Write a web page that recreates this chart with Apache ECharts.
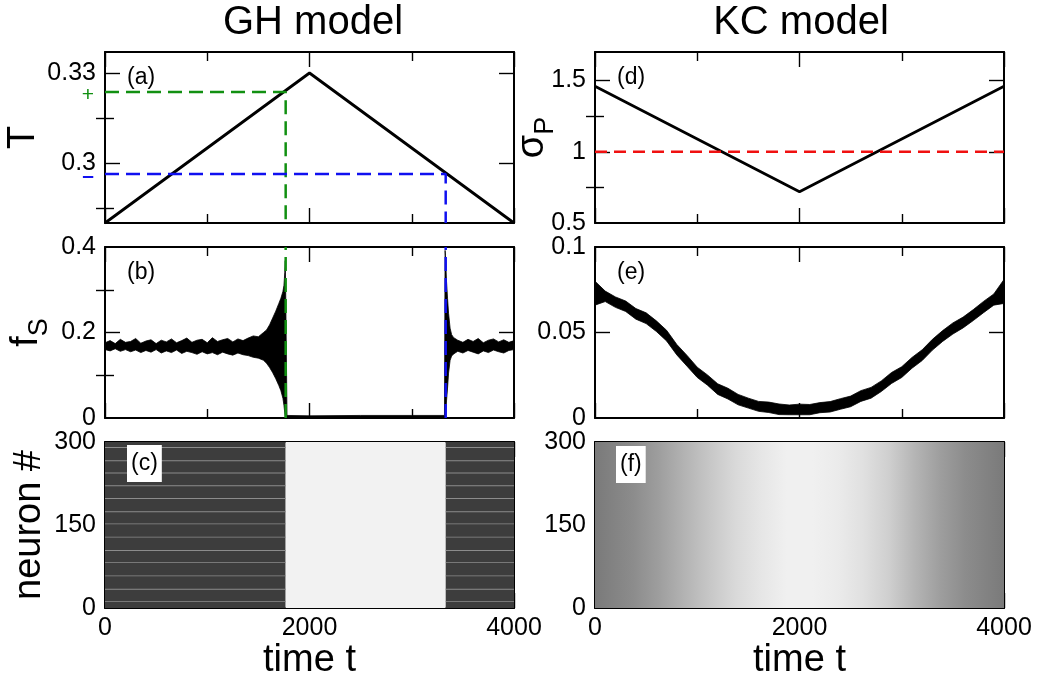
<!DOCTYPE html>
<html>
<head>
<meta charset="utf-8">
<script src="https://cdn.jsdelivr.net/npm/echarts@6.0.0/dist/echarts.min.js"></script>
<style>
html,body{margin:0;padding:0;background:#fff;}
#chart{width:1037px;height:681px;}
</style>
</head>
<body>
<div id="chart"></div>
<script>
// ---------------- DATA ----------------
const columnTitles = ['GH model', 'KC model'];
const timeLabels = [0, 2000, 4000];

// (a) GH model: temperature protocol T(t)
const ghTime = [0, 2000, 4000];
const ghT = [0.28, 0.33, 0.28];
const ghGreenT = 0.3237;   // critical T on the way up
const ghGreenTime = 1767;
const ghBlueT = 0.2963;    // critical T on the way down
const ghBlueTime = 3332;

// (b) GH model: f_S envelope (low / high edge of the noisy trace)
const fsTime = [0, 50, 100, 150, 200, 250, 300, 350, 400, 450, 500, 550, 600, 650, 700, 750, 800, 850, 900, 950, 1000, 1050, 1100, 1150, 1200, 1250, 1300, 1350, 1400,
                1450, 1500, 1550, 1580, 1610, 1640, 1670, 1700, 1720, 1740, 1750, 1758, 1763, 1767, 1780, 2000, 2500, 3000, 3320, 3326, 3330, 3340, 3350, 3360, 3375, 3390,
                3410, 3450, 3500, 3550, 3600, 3650, 3700, 3750, 3800, 3850, 3900, 3950, 4000];
const fsHigh = [0.176, 0.181, 0.174, 0.184, 0.177, 0.179, 0.186, 0.175, 0.180, 0.183, 0.174, 0.182, 0.178, 0.185, 0.176, 0.181, 0.187, 0.177, 0.182, 0.184, 0.176, 0.188, 0.179, 0.183, 0.186, 0.178, 0.185, 0.181, 0.187,
                0.192, 0.190, 0.200, 0.206, 0.218, 0.234, 0.250, 0.268, 0.280, 0.296, 0.310, 0.340, 0.368, 0.300, 0.006, 0.005, 0.006, 0.006, 0.006, 0.392, 0.380, 0.320, 0.280, 0.245, 0.210, 0.195,
                0.188, 0.182, 0.177, 0.184, 0.179, 0.186, 0.176, 0.182, 0.185, 0.178, 0.183, 0.177, 0.181];
const fsLow  = [0.160, 0.157, 0.162, 0.156, 0.160, 0.155, 0.159, 0.153, 0.158, 0.154, 0.160, 0.152, 0.157, 0.153, 0.159, 0.151, 0.156, 0.153, 0.149, 0.155, 0.150, 0.153, 0.148, 0.154, 0.150, 0.147, 0.152, 0.148, 0.146,
                0.142, 0.140, 0.135, 0.128, 0.118, 0.106, 0.092, 0.076, 0.064, 0.046, 0.030, 0.012, 0.001, 0.000, 0.001, 0.001, 0.001, 0.001, 0.001, 0.000, 0.000, 0.040, 0.070, 0.105, 0.135, 0.145,
                0.150, 0.156, 0.152, 0.158, 0.154, 0.150, 0.157, 0.153, 0.159, 0.155, 0.152, 0.158, 0.160];

// (c) GH model raster: firing density per time segment, bright row gaps
const ghRasterEdges = [0, 1767, 3332, 4000];
const ghRasterDensity = [0.76, 0.05, 0.76];
const ghStripeNeurons = [12, 34, 58, 82, 104, 128, 152, 174, 198, 221, 244, 266, 290];

// (d) KC model: branching ratio protocol sigma_P(t)
const kcTime = [0, 2000, 4000];
const kcSigma = [1.46, 0.72, 1.46];
const kcCritical = 1;

// (e) KC model: f_S envelope
const kfTime = [0, 100, 200, 300, 400, 500, 600, 700, 800, 900, 1000, 1100, 1200, 1300, 1400, 1500, 1600, 1700, 1800, 1900, 2000,
                2100, 2200, 2300, 2400, 2500, 2600, 2700, 2800, 2900, 3000, 3100, 3200, 3300, 3400, 3500, 3600, 3700, 3800, 3900, 4000];
const kfHigh = [0.0800, 0.0742, 0.0708, 0.0684, 0.0640, 0.0615, 0.0568, 0.0513, 0.0430, 0.0366, 0.0297, 0.0252, 0.0200, 0.0174, 0.0138, 0.0116, 0.0097, 0.0093, 0.0082, 0.0076, 0.0081,
                0.0079, 0.0090, 0.0096, 0.0113, 0.0128, 0.0160, 0.0179, 0.0217, 0.0266, 0.0300, 0.0354, 0.0399, 0.0460, 0.0511, 0.0556, 0.0590, 0.0634, 0.0682, 0.0725, 0.0810];
const kfLow  = [0.0660, 0.0681, 0.0647, 0.0623, 0.0578, 0.0552, 0.0506, 0.0451, 0.0369, 0.0303, 0.0237, 0.0192, 0.0138, 0.0111, 0.0077, 0.0058, 0.0039, 0.0032, 0.0020, 0.0019, 0.0019,
                0.0019, 0.0031, 0.0035, 0.0051, 0.0066, 0.0097, 0.0116, 0.0155, 0.0202, 0.0237, 0.0291, 0.0336, 0.0397, 0.0448, 0.0491, 0.0527, 0.0570, 0.0616, 0.0660, 0.0670];

// (f) KC model raster: firing density at segment centres
const kcRasterTime = [0, 125, 375, 625, 875, 1125, 1375, 1625, 1875, 2125, 2375, 2625, 2875, 3125, 3375, 3625, 3875, 4000];
const kcRasterDensity = [0.52, 0.50, 0.45, 0.38, 0.30, 0.22, 0.15, 0.10, 0.06, 0.06, 0.08, 0.12, 0.19, 0.29, 0.38, 0.45, 0.50, 0.52];

// ---------------- LAYOUT ----------------
const FONT = '"Liberation Sans", Arial, Helvetica, sans-serif';
const colLeft = [105, 595];
const rowTop = [52, 247, 442];
const PW = 409, PH = 171;

const panels = [
  {tag:'(a)', col:0, row:0, yMin:0.28, yMax:0.337, yLabels:[0.3, 0.33], yMajor:[0.3, 0.33], yMinor:[0.285, 0.315], name:'T', nameGap:62},
  {tag:'(b)', col:0, row:1, yMin:0, yMax:0.4, yLabels:[0, 0.2, 0.4], yMajor:[0.2], yMinor:[0.1, 0.3], name:'{m|f}{s|S}', nameGap:52},
  {tag:'(c)', col:0, row:2, yMin:0, yMax:300, yLabels:[0, 150, 300], yMajor:[150], yMinor:null, name:'neuron #', nameGap:56},
  {tag:'(d)', col:1, row:0, yMin:0.5, yMax:1.7, yLabels:[0.5, 1, 1.5], yMajor:[1, 1.5], yMinor:[0.75, 1.25], name:'{m|σ}{s|P}', nameGap:36},
  {tag:'(e)', col:1, row:1, yMin:0, yMax:0.1, yLabels:[0, 0.05, 0.1], yMajor:[0.05], yMinor:null, name:'', nameGap:50},
  {tag:'(f)', col:1, row:2, yMin:0, yMax:300, yLabels:[0, 150, 300], yMajor:[150], yMinor:null, name:'', nameGap:50}
];

const grids = [], xAxes = [], yAxes = [];
const axisLine = {show:true, onZero:false, lineStyle:{color:'#000', width:2}};
const tickStyle = {color:'#000', width:1.4};

panels.forEach((p, gi) => {
  grids.push({left: colLeft[p.col], top: rowTop[p.row], width: PW, height: PH, containLabel:false});
  const bottomRow = p.row === 2;
  p.x = xAxes.length;
  ['bottom', 'top'].forEach(pos => {
    xAxes.push({
      gridIndex: gi, type:'value', min:0, max:4000, interval:2000, position:pos,
      axisLine: axisLine,
      axisTick: {show:true, inside:true, length:15, lineStyle:tickStyle},
      minorTick: {show:true, splitNumber:2, length:9, lineStyle:tickStyle},
      splitLine: {show:false}, minorSplitLine:{show:false},
      axisLabel: {show: pos==='bottom' && bottomRow, customValues: timeLabels, formatter: v => String(v),
                  fontSize:25, color:'#000', fontFamily:FONT, margin:8},
      name: (pos==='bottom' && bottomRow) ? 'time t' : '',
      nameLocation:'middle', nameGap:34, nameMoveOverlap:false,
      nameTextStyle:{fontSize:38, color:'#000', fontFamily:FONT}
    });
  });
  p.y = yAxes.length;
  ['left', 'right'].forEach(pos => {
    yAxes.push({
      gridIndex: gi, type:'value', min:p.yMin, max:p.yMax, position:pos,
      axisLine: axisLine,
      axisTick: {show:true, inside:true, length:15, customValues:p.yMajor, lineStyle:tickStyle},
      splitLine: {show:false},
      axisLabel: {show: pos==='left', customValues:p.yLabels, formatter: v => String(v), fontSize:25, color:'#000', fontFamily:FONT, margin:9},
      name: pos==='left' ? p.name : '',
      nameLocation:'middle', nameGap:p.nameGap, nameMoveOverlap:false,
      nameTextStyle:{fontSize:38, color:'#000', fontFamily:FONT,
        rich:{m:{fontSize:38, color:'#000', fontFamily:FONT}, s:{fontSize:27, color:'#000', fontFamily:FONT, padding:[26,0,0,0]}}}
    });
  });
  if (p.yMinor) {
    ['left', 'right'].forEach(pos => {
      yAxes.push({
        gridIndex: gi, type:'value', min:p.yMin, max:p.yMax, position:pos,
        axisLine:{show:false},
        axisTick:{show:true, inside:true, length:9, customValues:p.yMinor, lineStyle:tickStyle},
        axisLabel:{show:false}, splitLine:{show:false}
      });
    });
  }
});

// Marker labels for the two critical temperatures on panel (a)
const markAxisIndex = yAxes.length;
yAxes.push({
  gridIndex: 0, type:'value', min:panels[0].yMin, max:panels[0].yMax, position:'left',
  axisLine:{show:false}, axisTick:{show:false}, splitLine:{show:false},
  axisLabel:{
    customValues:[ghBlueT, ghGreenT], margin:11,
    formatter: v => v === ghGreenT ? '{g|+}' : '{b|–}',
    rich:{ g:{color:'#119011', fontSize:21, fontFamily:FONT, padding:[6,0,0,0]}, b:{color:'#1010f0', fontSize:21, fontWeight:'bold', fontFamily:FONT, padding:[4,0,0,0]} }
  }
});

// ---------------- SERIES ----------------
const series = [];
const zip = (a, b) => a.map((v, i) => [v, b[i]]);

function bandSeries(p, t, lo, hi) {
  return {
    type:'custom', xAxisIndex:p.x, yAxisIndex:p.y, clip:true,
    data: t.map((v, i) => [v, lo[i], hi[i]]),
    encode:{x:0, y:[1, 2]},
    renderItem: (params, api) => {
      if (params.dataIndex !== 0) return null;
      const pts = [];
      for (let i = 0; i < t.length; i++) pts.push(api.coord([t[i], hi[i]]));
      for (let i = t.length - 1; i >= 0; i--) pts.push(api.coord([t[i], lo[i]]));
      return {type:'polygon', shape:{points:pts}, style:{fill:'#000', stroke:'#000', lineWidth:0.8}};
    },
    z:2
  };
}

function rasterSeries(p, cells) {
  return {
    type:'custom', xAxisIndex:p.x, yAxisIndex:p.y, clip:true,
    data: cells, encode:{x:[0, 1], y:[2, 3]},
    renderItem: (params, api) => {
      const a = api.coord([api.value(0), api.value(3)]);
      const b = api.coord([api.value(1), api.value(2)]);
      const g = Math.round(255 * (1 - api.value(4)));
      return {type:'rect', shape:{x:a[0], y:a[1], width:b[0]-a[0], height:b[1]-a[1]},
              style:{fill:`rgb(${g},${g},${g})`}};
    },
    z:1
  };
}

function gradientRaster(p, times, dens) {
  return {
    type:'custom', xAxisIndex:p.x, yAxisIndex:p.y, clip:true,
    data: [[times[0], times[times.length-1], p.yMin, p.yMax]], encode:{x:[0, 1], y:[2, 3]},
    renderItem: (params, api) => {
      const a = api.coord([api.value(0), api.value(3)]);
      const b = api.coord([api.value(1), api.value(2)]);
      const span = times[times.length-1] - times[0];
      const stops = dens.map((d, i) => {
        const g = Math.round(255 * (1 - d));
        return {offset:(times[i] - times[0]) / span, color:`rgb(${g},${g},${g})`};
      });
      return {type:'rect', shape:{x:a[0], y:a[1], width:b[0]-a[0], height:b[1]-a[1]},
              style:{fill:{type:'linear', x:0, y:0, x2:1, y2:0, colorStops:stops}}};
    },
    z:1
  };
}

function lineSeries(p, data, color, width, dash, z) {
  return {type:'line', xAxisIndex:p.x, yAxisIndex:p.y, data:data, symbol:'none',
          lineStyle:{color:color, width:width, type:dash || 'solid'}, silent:true, z:z || 3, animation:false};
}

const GREEN = '#119011', BLUE = '#1010f0', RED = '#f01010';
const [pa, pb, pc, pd, pe, pf] = panels;

// (a)
series.push(lineSeries(pa, zip(ghTime, ghT), '#000', 2.8));
series.push(lineSeries(pa, [[0, ghGreenT], [ghGreenTime, ghGreenT], [ghGreenTime, pa.yMin]], GREEN, 2.5, [14, 7], 4));
series.push(lineSeries(pa, [[0, ghBlueT], [ghBlueTime, ghBlueT], [ghBlueTime, pa.yMin]], BLUE, 2.5, [14, 7], 4));
series.push({type:'line', xAxisIndex:pa.x, yAxisIndex:markAxisIndex, data:[], symbol:'none'});

// (b)
series.push(bandSeries(pb, fsTime, fsLow, fsHigh));
series.push(lineSeries(pb, [[ghGreenTime, pb.yMin], [ghGreenTime, pb.yMax]], GREEN, 2.5, [14, 7], 4));
series.push(lineSeries(pb, [[ghBlueTime, pb.yMin], [ghBlueTime, pb.yMax]], BLUE, 2.5, [14, 7], 4));

// (c)
const ghCells = [];
ghRasterDensity.forEach((d, i) => ghCells.push([ghRasterEdges[i], ghRasterEdges[i+1], 0, 300, d]));
ghRasterDensity.forEach((d, i) => {
  if (d > 0.5) ghStripeNeurons.forEach(n => ghCells.push([ghRasterEdges[i], ghRasterEdges[i+1], n - 0.8, n + 0.8, 0.45]));
});
series.push(rasterSeries(pc, ghCells));

// (d)
series.push(lineSeries(pd, zip(kcTime, kcSigma), '#000', 2.8));
series.push(lineSeries(pd, [[0, kcCritical], [4000, kcCritical]], RED, 2.5, [12, 7], 4));

// (e)
series.push(bandSeries(pe, kfTime, kfLow, kfHigh));

// (f)
series.push(gradientRaster(pf, kcRasterTime, kcRasterDensity));

// ---------------- TEXT ----------------
const graphic = [];
columnTitles.forEach((t, i) => {
  graphic.push({type:'text', x: [313, 801][i], y: 23,
    style:{text:t, font:`40px ${FONT}`, fill:'#000', align:'center', verticalAlign:'middle', textAlign:'center', textVerticalAlign:'middle'}});
});
const tagPos = [[127, 77.5, false], [127, 272.5, false], [127, 463.5, true], [617, 77.5, false], [617, 272.5, false], [616, 464.5, true]];
panels.forEach((p, i) => {
  const [x, y, box] = tagPos[i];
  graphic.push({type:'text', x:x, y:y, z:100,
    style:{text:p.tag, font:`23px ${FONT}`, fill:'#000', align:'left', verticalAlign:'middle', textAlign:'left', textVerticalAlign:'middle',
           backgroundColor: box ? '#fff' : null, padding: box ? [7, 4, 7, 4] : 0}});
});

const chart = echarts.init(document.getElementById('chart'), null, {renderer:'canvas'});
chart.setOption({
  animation:false,
  backgroundColor:'#fff',
  grid: grids, xAxis: xAxes, yAxis: yAxes,
  series: series, graphic: graphic
});
</script>
</body>
</html>
